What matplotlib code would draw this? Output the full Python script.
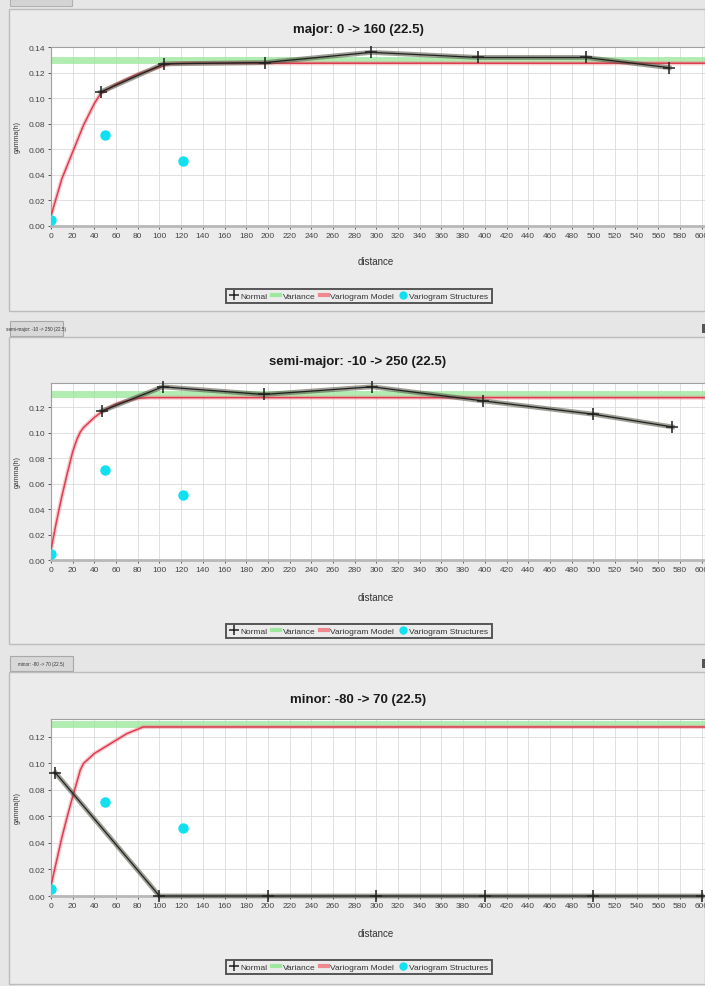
import numpy as np
import matplotlib.pyplot as plt
from matplotlib.patches import Rectangle
from matplotlib.lines import Line2D

plt.rcParams['font.family'] = ['Liberation Sans', 'DejaVu Sans']

W, H = 705, 987

# experimental variogram points ("Normal") for each direction
major_h = [46, 104, 197, 295, 394, 493, 570]
major_g = [0.105, 0.127, 0.128, 0.136, 0.132, 0.132, 0.124]
semi_h = [47, 103, 196, 296, 398, 500, 573]
semi_g = [0.117, 0.136, 0.130, 0.136, 0.125, 0.1145, 0.1045]
minor_h = [4, 100, 200, 300, 400, 500, 600]
minor_g = [0.093, 0.0, 0.0, 0.0, 0.0, 0.0, 0.0]

# fitted model
major_mh = [0, 10, 20, 30, 40, 46, 60, 80, 100, 110, 122, 620]
major_mg = [0.008, 0.037, 0.058, 0.079, 0.096, 0.104, 0.111, 0.119, 0.1245, 0.127, 0.1275, 0.1275]
semi_mh = [0, 5, 10, 15, 20, 24, 27, 30, 40, 47, 60, 70, 80, 90, 620]
semi_mg = [0.008, 0.030, 0.050, 0.068, 0.085, 0.095, 0.1005, 0.104, 0.112, 0.1165, 0.1225, 0.125, 0.127, 0.1275, 0.1275]
minor_mh = [0, 5, 10, 15, 20, 27, 30, 40, 50, 60, 70, 80, 85, 620]
minor_mg = [0.008, 0.026, 0.044, 0.060, 0.075, 0.095, 0.100, 0.1075, 0.1125, 0.1175, 0.1225, 0.1258, 0.1275, 0.1275]

variance = 0.130

# nugget + structure contributions (same for all directions)
struct_h = [0, 50, 122]
struct_g = [0.005, 0.071, 0.051]

titles = ['major: 0 -> 160 (22.5)', 'semi-major: -10 -> 250 (22.5)', 'minor: -80 -> 70 (22.5)']
ymax = [0.1402, 0.139, 0.1335]
x_ticks = np.arange(0, 620, 20)

fig = plt.figure(figsize=(W / 100, H / 100), dpi=100, facecolor='#e6e6e6')


def box(x0, y0, x1, y1, **kw):
    # rectangle given in pixel coords from the top-left corner
    r = Rectangle((x0 / W, 1 - y1 / H), (x1 - x0) / W, (y1 - y0) / H,
                  transform=fig.transFigure, zorder=-5, **kw)
    fig.add_artist(r)


# panel frames and tab headers
box(10, 0, 72, 7, facecolor='#d4d4d4', edgecolor='#b0b0b0', lw=0.8)
box(9, 10, 705, 312, facecolor='#ebebeb', edgecolor='#bcbcbc', lw=1)
box(10, 322, 63, 337, facecolor='#d8d8d8', edgecolor='#a8a8a8', lw=0.8)
box(9, 338, 705, 645, facecolor='#ebebeb', edgecolor='#bcbcbc', lw=1)
box(10, 657, 73, 672, facecolor='#d8d8d8', edgecolor='#a8a8a8', lw=0.8)
box(9, 673, 705, 985, facecolor='#ebebeb', edgecolor='#bcbcbc', lw=1)
fig.text(36 / W, 1 - 329.5 / H, titles[1], fontsize=3.3, ha='center', va='center', color='#333')
fig.text(41 / W, 1 - 664.5 / H, titles[2], fontsize=3.3, ha='center', va='center', color='#333')

# plot area top/bottom in pixels, plus title / xlabel / legend rows
plot_rows = [(48, 227), (384, 561), (720, 897)]
title_y = [30, 362, 700]
xlab_y = [262, 598, 934]
leg_y = [297, 632, 968]

normal = [(major_h, major_g), (semi_h, semi_g), (minor_h, minor_g)]
model = [(major_mh, major_mg), (semi_mh, semi_mg), (minor_mh, minor_mg)]

left = 51
for i in range(3):
    top, bot = plot_rows[i]
    ax = fig.add_axes([left / W, 1 - bot / H, (W - left) / W, (bot - top) / H])
    ax.set_facecolor('white')
    ax.set_xlim(0, 603)
    ax.set_ylim(0, ymax[i])
    ax.set_xticks(x_ticks)
    ax.set_yticks(np.arange(0, ymax[i] + 1e-6, 0.02))
    ax.yaxis.set_major_formatter(plt.FormatStrFormatter('%.2f'))
    ax.tick_params(labelsize=6, length=2, pad=2, colors='#444444', width=0.6)
    ax.grid(True, color='#dadada', lw=0.6)
    ax.set_axisbelow(True)
    for s in ax.spines.values():
        s.set_color('#a0a0a0')
        s.set_linewidth(0.8)
    ax.spines['bottom'].set_linewidth(2)
    ax.spines['bottom'].set_color('#b8b8b8')

    ax.axhline(variance, color='#9ee89e', lw=5, alpha=0.8, zorder=2)
    mh, mg = model[i]
    ax.plot(mh, mg, color='#f08890', lw=3, alpha=0.45, zorder=3)
    ax.plot(mh, mg, color='#e03c50', lw=1.1, zorder=3)
    nh, ng = normal[i]
    ax.plot(nh, ng, color='#505040', lw=3.5, alpha=0.55, zorder=4, clip_on=False)
    ax.plot(nh, ng, color='#202020', lw=0.9, marker='+', ms=8, mew=1.1, zorder=5, clip_on=False)
    ax.plot(struct_h, struct_g, ls='none', marker='o', ms=6.5, color='#10e0f0',
            mec='#10e0f0', zorder=6)

    ax.set_ylabel('gamma(h)', fontsize=5, color='#333333', labelpad=6)
    fig.text(358 / W, 1 - title_y[i] / H, titles[i], fontsize=9.5, fontweight='bold',
             ha='center', va='center', color='#1a1a1a')
    fig.text(376 / W, 1 - xlab_y[i] / H, 'distance', fontsize=7,
             ha='center', va='center', color='#333333')

    handles = [
        Line2D([], [], color='#202020', lw=0, marker='+', ms=7, mew=1.1),
        Line2D([], [], color='#9ee89e', lw=3),
        Line2D([], [], color='#f08890', lw=3),
        Line2D([], [], color='#10e0f0', lw=0, marker='o', ms=5),
    ]
    labels = ['Normal', 'Variance', 'Variogram Model', 'Variogram Structures']
    leg = fig.legend(handles, labels, loc='center', bbox_to_anchor=(359 / W, 1 - leg_y[i] / H),
                     ncol=4, fontsize=6, handlelength=1.0, handletextpad=0.3,
                     columnspacing=0.5, borderpad=0.4, fancybox=False, frameon=True)
    leg.get_frame().set_edgecolor('#303030')
    leg.get_frame().set_linewidth(1.4)
    leg.get_frame().set_facecolor('#ececec')
    for t in leg.get_texts():
        t.set_color('#333333')

# small markers on the right edge next to the tab rows
box(702, 325, 705, 334, facecolor='#555555', edgecolor='none')
box(702, 660, 705, 669, facecolor='#555555', edgecolor='none')

fig.savefig('out.png', dpi=100, facecolor=fig.get_facecolor())
